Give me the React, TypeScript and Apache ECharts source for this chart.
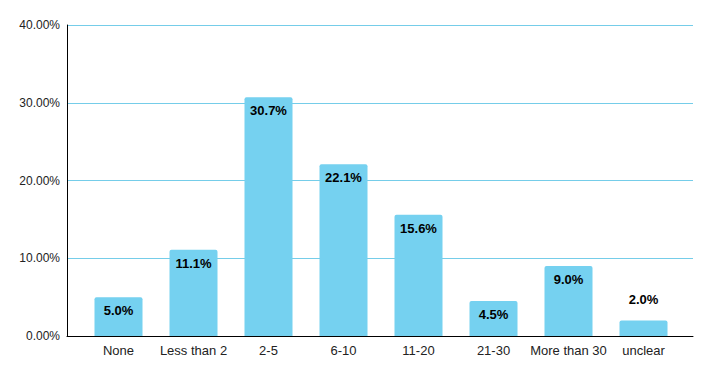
import React, { useEffect, useRef } from "react";
import * as echarts from "echarts";

const categories = ["None", "Less than 2", "2-5", "6-10", "11-20", "21-30", "More than 30", "unclear"];
const values = [5.0, 11.1, 30.7, 22.1, 15.6, 4.5, 9.0, 2.0];
const yTicks = [0, 10, 20, 30, 40];

export default function App() {
  const ref = useRef<HTMLDivElement>(null);
  useEffect(() => {
    const chart = echarts.init(ref.current!, null, { renderer: "svg" });
    const font = "'Liberation Sans', Arial, sans-serif";
    chart.setOption({
      animation: false,
      grid: [
        { left: 67, right: 20, top: 25, bottom: 41 },
        { left: 81, right: 32, top: 25, bottom: 41 },
      ],
      xAxis: [
        {
          gridIndex: 0,
          type: "value",
          min: 0,
          max: 1,
          axisLine: { show: true, onZero: false, lineStyle: { color: "#000", width: 1 } },
          axisTick: { show: false },
          axisLabel: { show: false },
          splitLine: { show: false },
        },
        {
          gridIndex: 1,
          type: "category",
          data: categories,
          axisLine: { show: false },
          axisTick: { show: false },
          axisLabel: { interval: 0, color: "#222", fontSize: 13, fontFamily: font, margin: 8 },
        },
      ],
      yAxis: [
        {
          gridIndex: 0,
          type: "value",
          min: yTicks[0],
          max: yTicks[yTicks.length - 1],
          interval: 10,
          axisLine: { show: true, lineStyle: { color: "#000", width: 1 } },
          axisTick: { show: false },
          axisLabel: {
            color: "#222",
            fontSize: 12,
            fontFamily: font,
            margin: 7,
            formatter: (v: number) => v.toFixed(2) + "%",
          },
          splitLine: { show: true, lineStyle: { color: "#75cde9", width: 1 } },
        },
        {
          gridIndex: 1,
          type: "value",
          min: yTicks[0],
          max: yTicks[yTicks.length - 1],
          interval: 10,
          show: false,
        },
      ],
      series: [
        {
          type: "bar",
          xAxisIndex: 1,
          yAxisIndex: 1,
          data: values.map((v) => ({
            value: v,
            label: v < 3 ? { position: "top", distance: 14 } : undefined,
          })),
          barWidth: 48,
          itemStyle: { color: "#75d1f0", borderRadius: [2, 2, 0, 0] },
          label: {
            show: true,
            position: "insideTop",
            distance: 7,
            color: "#000",
            fontWeight: "bold",
            fontSize: 13,
            fontFamily: font,
            formatter: (p: any) => p.value.toFixed(1) + "%",
          },
        },
      ],
    });
    return () => chart.dispose();
  }, []);
  return <div ref={ref} style={{ width: 713, height: 377, position: "absolute", left: 0, top: 0 }} />;
}
